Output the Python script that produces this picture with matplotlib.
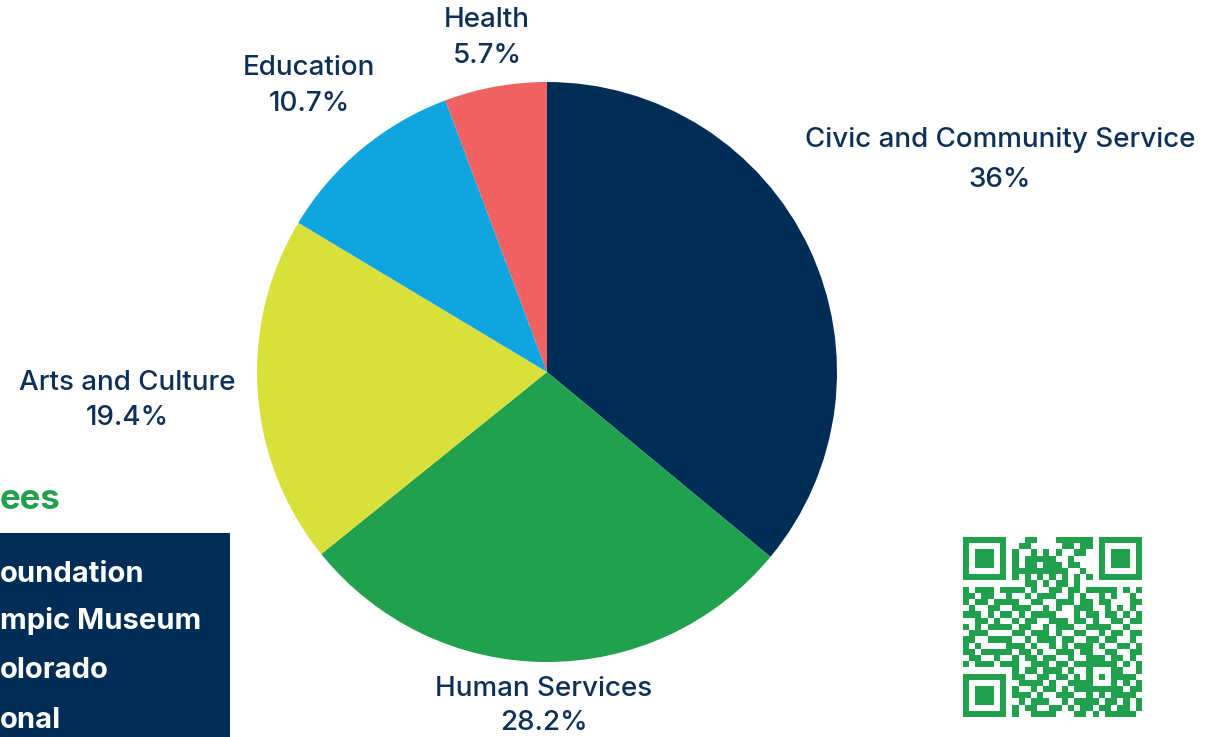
import numpy as np
import matplotlib
matplotlib.use("Agg")
import matplotlib.pyplot as plt
from matplotlib.colors import ListedColormap
from matplotlib.patches import Rectangle

# ---- data ----
categories = ["Civic and Community Service", "Human Services", "Arts and Culture",
              "Education", "Health"]
shares = [36.0, 28.2, 19.4, 10.7, 5.7]
pct_labels = ["36%", "28.2%", "19.4%", "10.7%", "5.7%"]
colors = ["#002d56", "#21a04d", "#d8e03c", "#10a5de", "#f06262"]

grantee_heading = "ees"
grantee_lines = ["oundation", "mpic Museum", "olorado", "onal"]

qr_rows = [
    "00000000001100011111100000000",
    "00000000011000001101100000000",
    "00000000100101010011000000000",
    "00000000101111100100000000000",
    "00000000101101110110000000000",
    "00000000111111111001000000000",
    "00000000000000000000000000000",
    "00000000001101011010000000000",
    "10111011110100110110111110101",
    "11011001001011100101001010010",
    "10110111100110011101101100011",
    "01001100111001010011100101010",
    "11101011010111100010110110101",
    "00110100101100111011010011011",
    "10101111011001011100111100100",
    "01110010110111010011001011011",
    "11001101001011101100110110010",
    "10100011110100101011101001101",
    "11011101011010011101100110011",
    "01100110101101100100111011010",
    "10111001100111011011111110101",
    "00000000101101110100011011001",
    "00000000110011011010010101110",
    "00000000011110100111011100101",
    "00000000100101101011111101011",
    "00000000111010011100101011110",
    "00000000010111001011110110101",
    "00000000101100110101101101101",
    "00000000100111100011010111110",
]

NAVY_TXT = "#0e3057"
GREEN = "#21a04d"
W, H = 1222, 737

fig = plt.figure(figsize=(W / 100, H / 100), dpi=100)
ax = fig.add_axes([0, 0, 1, 1])

# pie
ax.pie(shares, colors=colors, startangle=90, counterclock=False,
       center=(547, H - 372), radius=290,
       wedgeprops=dict(linewidth=0))

ax.set_xlim(0, W)
ax.set_ylim(0, H)
ax.set_aspect("equal")
ax.axis("off")

font = ["Inter", "DejaVu Sans"]
label_pos = [(1000, 140, 180), (544, 689, 723), (127, 383, 418),
             (309, 68, 104), (487, 20, 56)]
for name, pct, (x, y1, y2) in zip(categories, pct_labels, label_pos):
    ax.text(x, H - y1, name, ha="center", va="center", fontsize=20,
            color=NAVY_TXT, family=font, fontweight="medium")
    ax.text(x, H - y2, pct, ha="center", va="center", fontsize=20,
            color=NAVY_TXT, family=font, fontweight="medium")

# left grantees box
ax.add_patch(Rectangle((0, 0), 230, H - 533, facecolor="#002d56", edgecolor="none"))
ax.text(0, H - 500, grantee_heading, ha="left", va="center", fontsize=25,
        color=GREEN, family=font, fontweight="bold")
for line, yp in zip(grantee_lines, [574, 621, 670, 720]):
    ax.text(0, H - yp, line, ha="left", va="center", fontsize=21,
            color="white", family=font, fontweight="bold")

# QR code
n = 29
grid = np.array([[int(c) for c in r.ljust(n, "0")[:n]] for r in qr_rows])

def finder(r0, c0):
    rr0, cc0 = max(r0 - 1, 0), max(c0 - 1, 0)
    grid[rr0:min(r0 + 8, n), cc0:min(c0 + 8, n)] = 0
    grid[r0:r0 + 7, c0:c0 + 7] = 1
    grid[r0 + 1:r0 + 6, c0 + 1:c0 + 6] = 0
    grid[r0 + 2:r0 + 5, c0 + 2:c0 + 5] = 1

finder(0, 0)
finder(0, 22)
finder(22, 0)
for i in range(8, 21):
    grid[6, i] = 1 - (i % 2)
    grid[i, 6] = 1 - (i % 2)
grid[20:25, 20:25] = 1
grid[21:24, 21:24] = 0
grid[22, 22] = 1
grid[21, 8] = 1

qx0, qx1 = 963, 1142
qy0, qy1 = 537, 717
ax.imshow(grid, cmap=ListedColormap(["white", GREEN]), interpolation="nearest",
          extent=(qx0, qx1, H - qy1, H - qy0), zorder=3)
ax.set_xlim(0, W)
ax.set_ylim(0, H)

fig.savefig("out.png", dpi=100)
